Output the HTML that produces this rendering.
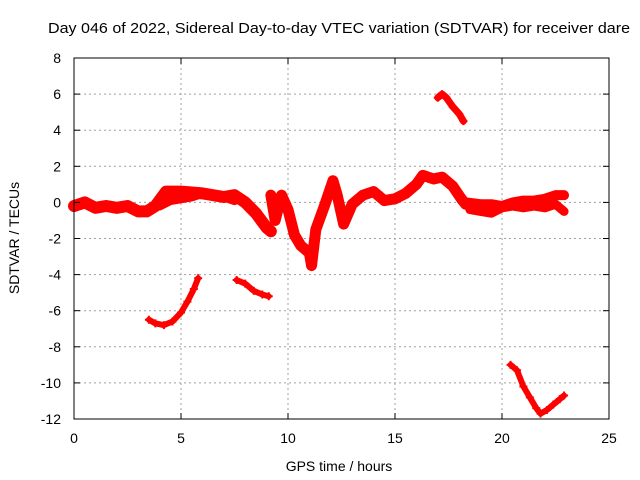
<!DOCTYPE html>
<html><head><meta charset="utf-8"><style>
body{margin:0;background:#fff}
svg{display:block;font-family:"Liberation Sans",sans-serif}
</style></head><body>
<svg id="c" width="640" height="480" viewBox="0 0 640 480">
<text x="48" y="33" font-size="15" textLength="582" lengthAdjust="spacingAndGlyphs">Day 046 of 2022, Sidereal Day-to-day VTEC variation (SDTVAR) for receiver dare</text>
<text x="339" y="471" font-size="14" text-anchor="middle">GPS time / hours</text>
<text transform="translate(19,238) rotate(-90)" font-size="14" text-anchor="middle">SDTVAR / TECUs</text>
<g id="grid"></g><g id="marks"></g><g id="axes"></g>
</svg>
<script>
const xTicks=[0,5,10,15,20,25];
const yTicks=[8,6,4,2,0,-2,-4,-6,-8,-10,-12];
const mainUpperT=[0,0.5,1,1.5,2,2.5,3,3.4,3.8,4.3,5,6,7,7.5,8,8.5,9,9.2];
const mainUpperV=[-0.2,0,-0.3,-0.2,-0.3,-0.2,-0.5,-0.5,-0.2,0.6,0.6,0.5,0.3,0.4,0,-0.6,-1.4,-1.6];
const mainLowerT=[4,4.5,5,5.5,6,7,7.5];
const mainLowerV=[-0.2,0.1,0.2,0.3,0.5,0.3,0.1];
const midT=[9.2,9.4,9.7,10,10.3,10.6,11,11.1,11.3,11.7,12.1,12.3,12.6,13,13.5,14,14.5,15,15.5,16,16.3,16.8,17.2,17.7,18.1,18.3];
const midV=[0.4,-1.0,0.4,-0.4,-1.8,-2.4,-2.8,-3.5,-1.5,-0.2,1.2,0.4,-1.2,-0.1,0.4,0.6,0.1,0.2,0.5,1.0,1.5,1.3,1.4,0.9,0.2,-0.1];
const tailUpperT=[18.3,19,19.5,20,20.5,21,21.5,22,22.5,22.9];
const tailUpperV=[0,-0.1,-0.1,-0.2,0,0.1,0.1,0.2,0.4,0.4];
const tailLowerT=[18.5,19,19.5,20,20.5,21,21.5,22,22.5,22.9];
const tailLowerV=[-0.4,-0.5,-0.6,-0.3,-0.2,-0.3,-0.2,-0.3,-0.1,-0.5];
const trackBT=[3.5,3.8,4.2,4.6,5,5.3,5.6,5.8];
const trackBV=[-6.5,-6.7,-6.8,-6.6,-6.1,-5.5,-4.8,-4.2];
const trackCT=[7.6,8,8.4,8.8,9.1];
const trackCV=[-4.3,-4.5,-4.9,-5.1,-5.2];
const trackDT=[17,17.2,17.4,17.7,18,18.2];
const trackDV=[5.8,6.0,5.8,5.3,4.9,4.5];
const trackET=[20.4,20.7,21,21.3,21.6,21.8,22.1,22.4,22.7,22.9];
const trackEV=[-9.0,-9.3,-10.2,-10.8,-11.4,-11.7,-11.5,-11.2,-10.9,-10.7];
const X0=74,X1=609,Y0=58,Y1=419;
const sx=t=>X0+t/25*(X1-X0);
const sy=v=>Y0+(8-v)/20*(Y1-Y0);
const NS="http://www.w3.org/2000/svg";
const g=document.getElementById('grid'),m=document.getElementById('marks'),a=document.getElementById('axes');
function mk(tag,attrs,parent){const e=document.createElementNS(NS,tag);for(const k in attrs)e.setAttribute(k,attrs[k]);parent.appendChild(e);return e;}
xTicks.forEach(t=>{
 if(t>0&&t<25){const l=mk('line',{x1:sx(t),x2:sx(t),y1:Y0,y2:Y1,stroke:'#a0a0a0','stroke-dasharray':'2,3'},g);
 
 }
 const tx=mk('text',{x:sx(t),y:443,'font-size':14,'text-anchor':'middle'},a);tx.textContent=t;
 
 
 mk('line',{x1:sx(t),x2:sx(t),y1:Y1,y2:Y1-6,stroke:'#000'},a);
 mk('line',{x1:sx(t),x2:sx(t),y1:Y0,y2:Y0+6,stroke:'#000'},a);
});
yTicks.forEach(v=>{
 if(v<8&&v>-12){const l=mk('line',{x1:X0,x2:X1,y1:sy(v),y2:sy(v),stroke:'#a0a0a0','stroke-dasharray':'2,3'},g);
 
 }
 const tx=mk('text',{x:61,y:sy(v)+5,'font-size':14,'text-anchor':'end'},a);tx.textContent=v;
 
 
 mk('line',{x1:X0,x2:X0+6,y1:sy(v),y2:sy(v),stroke:'#000'},a);
 mk('line',{x1:X1,x2:X1-6,y1:sy(v),y2:sy(v),stroke:'#000'},a);
});
const fr=mk('rect',{x:X0,y:Y0,width:X1-X0,height:Y1-Y0,fill:'none',stroke:'#000'},a);


function track(T,V,w,name){
 const pts=T.map((t,i)=>sx(t)+','+sy(V[i])).join(' ');
 const p=mk('polyline',{points:pts,fill:'none',stroke:'#ff0000','stroke-width':w,'stroke-linejoin':'round','stroke-linecap':'round'},m);
 
 
 T.forEach((t,i)=>{const x=sx(t),y=sy(V[i]);
  const c=mk('path',{d:`M${x-4},${y}H${x+4}M${x},${y-4}V${y+4}`,stroke:'#ff0000','stroke-width':2},m);
  
  });
}
track(mainUpperT,mainUpperV,12,'series-main-upper');
track(mainLowerT,mainLowerV,9,'series-main-lower');
track(midT,midV,11,'series-mid');
track(tailUpperT,tailUpperV,10,'series-tail-upper');
track(tailLowerT,tailLowerV,9,'series-tail-lower');
track(trackBT,trackBV,6,'series-track-b');
track(trackCT,trackCV,6,'series-track-c');
track(trackDT,trackDV,7,'series-track-d');
track(trackET,trackEV,6,'series-track-e');
</script>
</body></html>
